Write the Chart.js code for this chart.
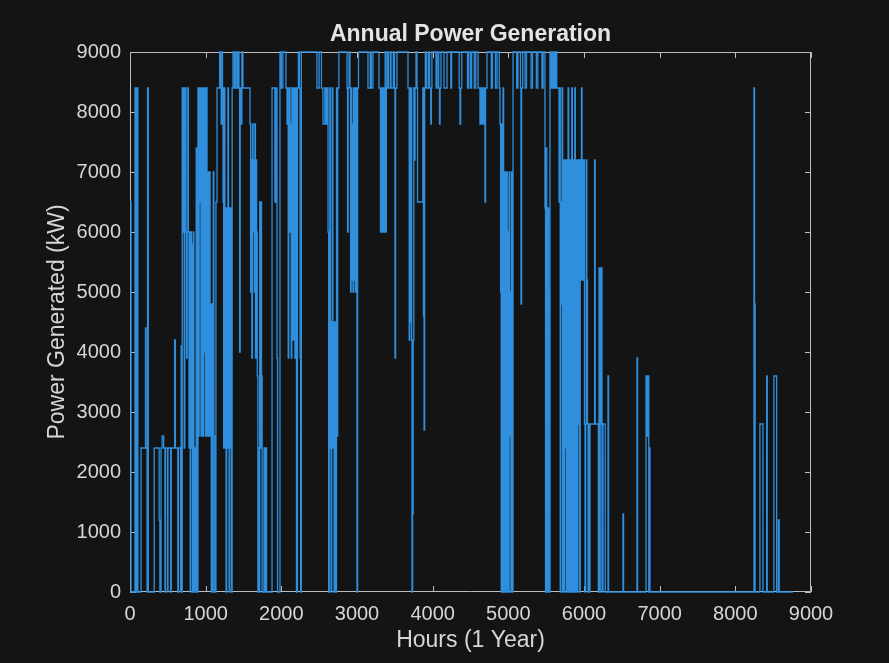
<!DOCTYPE html>
<html>
<head>
<meta charset="utf-8">
<script src="https://cdn.jsdelivr.net/npm/chart.js@4"></script>
<style>
    html, body { margin: 0; padding: 0; background: #141414; }
    canvas { display: block; }
</style>
</head>
<body>
<canvas id="chart" width="889" height="663"></canvas>
<script>
// Hour at which the output changes, and the output (kW) held from that hour on
const hoursJanFeb = [
    0, 13, 66, 80, 92, 104, 145, 205, 212, 226,
    232, 242, 320, 385, 395, 410, 425, 445, 462, 468,
    495, 502, 538, 546, 590, 600, 632, 640, 668, 676,
    686, 690, 700, 708, 716, 724, 732, 740, 748, 756,
    764, 772, 780, 788, 796, 804, 812, 820, 828, 836,
    844, 852, 860, 868, 875, 885, 898, 906, 914, 922,
    930, 938, 946, 954, 962, 970, 978, 986, 994, 1002,
    1010, 1018, 1026, 1034, 1042, 1050, 1058, 1066, 1074, 1082,
    1090, 1100, 1108
];
const kwJanFeb = [
    6500, 0, 8400, 0, 8400, 0, 2400, 4400, 2400, 0,
    8400, 0, 2400, 1200, 0, 2400, 2600, 2400, 0, 2400,
    0, 2400, 0, 2400, 4200, 2400, 0, 2400, 0, 4100,
    0, 8400, 6000, 8400, 2400, 6000, 8400, 6000, 3900, 6000,
    8400, 6000, 2400, 6000, 0, 6000, 2400, 5800, 0, 6000,
    2400, 0, 2400, 0, 7400, 0, 8400, 2600, 8400, 6500,
    8400, 2600, 8400, 7000, 2600, 8400, 4000, 8400, 2600, 7000,
    8400, 2600, 7000, 5000, 2600, 7000, 4800, 2600, 0, 4800,
    0, 7000, 2600
];

const hoursFebApr = [
    1120, 1136, 1150, 1185, 1195, 1205, 1213, 1222, 1230, 1238,
    1246, 1254, 1262, 1270, 1278, 1286, 1294, 1302, 1310, 1318,
    1326, 1334, 1342, 1350, 1361, 1380, 1395, 1414, 1425, 1440,
    1448, 1456, 1470, 1478, 1493, 1586, 1594, 1602, 1610, 1618,
    1626, 1634, 1642, 1650, 1658, 1666, 1674, 1682, 1690, 1698,
    1706, 1714, 1722, 1730, 1738, 1746, 1771, 1780, 1797, 1805,
    1877, 1915, 1929, 1943, 1950, 1982, 2000, 2020, 2061, 2075,
    2083, 2091, 2099, 2107, 2115, 2123, 2131, 2139, 2147, 2155,
    2163, 2171, 2179, 2187, 2200, 2213, 2226, 2240, 2247, 2255,
    2265
];
const kwFebApr = [
    0, 6500, 8400, 9000, 8400, 7800, 9000, 8400, 6500, 2400,
    8400, 6400, 2400, 0, 6400, 2400, 8400, 6400, 0, 2400,
    6400, 2400, 0, 8400, 9000, 8400, 9000, 8400, 9000, 8400,
    4000, 8400, 7800, 9000, 8400, 7800, 5000, 7200, 3900, 7800,
    6000, 7200, 5000, 7800, 3900, 7200, 6000, 3600, 0, 2400,
    0, 6500, 2400, 6500, 3600, 0, 2400, 0, 2400, 0,
    8400, 6500, 8400, 3900, 0, 9000, 8400, 9000, 8400, 7800,
    8400, 3900, 7800, 8400, 6000, 7800, 3900, 8400, 7800, 4200,
    8400, 7800, 3900, 8400, 0, 8400, 9000, 8400, 3900, 0,
    9000
];

const hoursAprMay = [
    2273, 2471, 2500, 2530, 2550, 2575, 2590, 2605, 2617, 2625,
    2633, 2641, 2649, 2657, 2665, 2673, 2681, 2689, 2697, 2705,
    2713, 2721, 2729, 2737, 2745, 2760, 2868, 2875, 2883, 2895,
    2907, 2915, 2923, 2931, 2939, 2947, 2955, 2963, 2971, 2979,
    2990, 3000, 3008, 3020, 3145, 3175, 3190, 3211, 3290, 3310,
    3318, 3326
];
const kwAprMay = [
    9000, 8400, 9000, 8400, 7800, 8400, 7800, 8400, 6000, 0,
    6000, 8400, 2400, 0, 4500, 8400, 2400, 4500, 0, 2400,
    4500, 0, 8400, 2600, 8400, 9000, 8400, 6000, 8400, 9000,
    8400, 5000, 8400, 5200, 7800, 5000, 8400, 5200, 8400, 5000,
    8400, 0, 8400, 9000, 8400, 9000, 8400, 9000, 8400, 6000,
    8400, 6000
];

const hoursMayJul = [
    3340, 3348, 3356, 3364, 3372, 3380, 3388, 3400, 3415, 3440,
    3450, 3480, 3495, 3502, 3510, 3528, 3674, 3690, 3698, 3706, 3714,
    3722, 3727, 3735, 3743, 3751, 3759, 3767, 3780, 3793, 3800,
    3870, 3878, 3886, 3894, 3903, 3920, 3945, 3960, 3975, 3983,
    3990, 4045, 4060, 4080, 4090, 4098, 4110, 4150, 4190, 4240,
    4250, 4350, 4361, 4370, 4385
];
const kwMayJul = [
    8400, 6000, 8400, 6000, 9000, 6000, 8400, 9000, 8400, 9000,
    8400, 9000, 8400, 3900, 8400, 9000, 8400, 4200, 8400, 4500, 8400,
    4200, 0, 1300, 4200, 8400, 7200, 8400, 9000, 8400, 6500,
    8400, 4600, 2700, 8400, 9000, 8400, 9000, 8400, 7800, 8400,
    9000, 8400, 9000, 8400, 7800, 8400, 9000, 8400, 9000, 8400,
    9000, 8400, 7800, 8400, 9000
];

const hoursJulAug = [
    4427, 4460, 4475, 4500, 4515, 4550, 4570, 4600, 4625, 4633,
    4641, 4649, 4657, 4665, 4673, 4681, 4691, 4699, 4718, 4775,
    4790, 4830, 4850, 4880, 4890, 4898, 4906, 4914, 4922, 4930,
    4938, 4946, 4954, 4962, 4970, 4978, 4986, 4994, 5002, 5010,
    5018, 5026, 5034, 5042, 5050, 5062, 5110, 5127, 5160, 5167,
    5175, 5190, 5220, 5240, 5300, 5320, 5370, 5390, 5444, 5460,
    5484, 5492, 5500, 5508, 5516, 5524, 5532, 5540
];
const kwJulAug = [
    9000, 8400, 9000, 8400, 9000, 8400, 9000, 8400, 7800, 8400,
    7800, 8400, 7800, 8400, 7800, 8400, 6500, 8400, 9000, 8400,
    9000, 8400, 9000, 8400, 7800, 5000, 0, 7800, 0, 8400,
    5000, 0, 7000, 5000, 0, 7000, 0, 6000, 0, 7000,
    2600, 5000, 0, 7000, 0, 9000, 8400, 9000, 8400, 4800,
    8400, 9000, 8400, 9000, 8400, 9000, 8400, 9000, 8400, 9000,
    6400, 0, 7400, 5000, 0, 6400, 5000, 0
];

const hoursSepOct = [
    5550, 5560, 5570, 5580, 5590, 5600, 5610, 5620, 5630, 5640,
    5670, 5678, 5686, 5694, 5702, 5710, 5718, 5726, 5734, 5742,
    5750, 5758, 5766, 5774, 5782, 5790, 5798, 5806, 5814, 5822,
    5830, 5838, 5846, 5854, 5862, 5870, 5878, 5886, 5894, 5902,
    5910, 5918, 5926, 5934, 5942, 5950, 5958, 5966, 5974, 5982,
    5990, 5998, 6006, 6014, 6022, 6030, 6038, 6046, 6054, 6062,
    6070, 6079, 6140, 6148, 6190, 6198, 6206, 6214, 6222, 6230,
    6238, 6250, 6280, 6317, 6325, 6515, 6523, 6700, 6708, 6820,
    6834, 6842, 6856, 6864, 6872
];
const kwSepOct = [
    9000, 8400, 9000, 8400, 9000, 8400, 9000, 8400, 9000, 8400,
    6500, 8400, 0, 6500, 4800, 8400, 0, 7200, 0, 7200,
    2400, 7200, 0, 7200, 0, 8400, 0, 7200, 5600, 0,
    7200, 8400, 0, 7200, 5600, 0, 8400, 7200, 0, 7200,
    0, 7200, 2800, 7200, 0, 7200, 5200, 8400, 5200, 7200,
    5200, 7200, 2800, 0, 2800, 7200, 5200, 2800, 0, 2800,
    0, 2800, 7200, 2800, 0, 5400, 0, 5400, 2800, 5400,
    0, 2800, 0, 3600, 0, 1300, 0, 3900, 0, 3600,
    2600, 3600, 0, 2400, 0
];

const hoursDec = [8246, 8254, 8262, 8325, 8365, 8414, 8422, 8510, 8546, 8568, 8580, 8760];
const kwDec = [8400, 4800, 0, 2800, 0, 3600, 0, 3600, 0, 1200, 0, 0];

const xTicks = [0, 1000, 2000, 3000, 4000, 5000, 6000, 7000, 8000, 9000];
const yTicks = [0, 1000, 2000, 3000, 4000, 5000, 6000, 7000, 8000, 9000];

const hours = [].concat(hoursJanFeb, hoursFebApr, hoursAprMay, hoursMayJul, hoursJulAug, hoursSepOct, hoursDec);
const power = [].concat(kwJanFeb, kwFebApr, kwAprMay, kwMayJul, kwJulAug, kwSepOct, kwDec);
const points = hours.map((h, i) => ({ x: h, y: power[i] }));

const textColor = '#d6d6d6';
const frameColor = '#bdbdbd';
const fontFamily = "'Liberation Sans', Arial, sans-serif";

// Matlab style box with ticks pointing inwards, title centred over the axes
const boxPlugin = {
    id: 'box',
    afterLayout(chart) {
        if (chart.titleBlock) {
            chart.titleBlock.left = chart.chartArea.left;
            chart.titleBlock.right = chart.chartArea.right;
        }
    },
    beforeDraw(chart) {
        const { ctx } = chart;
        ctx.save();
        ctx.fillStyle = '#141414';
        ctx.fillRect(0, 0, chart.width, chart.height);
        ctx.restore();
    },
    beforeDatasetsDraw(chart) {
        const { ctx, chartArea: a, scales: { x, y } } = chart;
        const len = 6;
        ctx.save();
        ctx.strokeStyle = frameColor;
        ctx.lineWidth = 1;
        ctx.beginPath();
        ctx.rect(a.left + 0.5, a.top + 0.5, a.right - a.left - 1, a.bottom - a.top - 1);
        xTicks.forEach(v => {
            const px = Math.round(x.getPixelForValue(v)) + 0.5;
            ctx.moveTo(px, a.bottom); ctx.lineTo(px, a.bottom - len);
            ctx.moveTo(px, a.top); ctx.lineTo(px, a.top + len);
        });
        yTicks.forEach(v => {
            const py = Math.round(y.getPixelForValue(v)) + 0.5;
            ctx.moveTo(a.left, py); ctx.lineTo(a.left + len, py);
            ctx.moveTo(a.right, py); ctx.lineTo(a.right - len, py);
        });
        ctx.stroke();
        ctx.restore();
    }
};

new Chart(document.getElementById('chart'), {
    type: 'line',
    data: {
        datasets: [{
            data: points,
            stepped: true,
            borderColor: '#2f8fdd',
            borderWidth: 1.3,
            pointRadius: 0,
            fill: false,
            clip: 2
        }]
    },
    options: {
        responsive: false,
        animation: false,
        events: [],
        layout: { padding: { left: 0, right: 78, top: 0, bottom: 0 } },
        plugins: {
            legend: { display: false },
            tooltip: { enabled: false },
            title: {
                display: true,
                text: 'Annual Power Generation',
                color: '#e4e4e4',
                font: { family: fontFamily, size: 23, weight: 'bold' },
                padding: { top: 21, bottom: 3.4 }
            }
        },
        scales: {
            x: {
                type: 'linear',
                min: 0,
                max: 9000,
                afterBuildTicks: (scale) => { scale.ticks = xTicks.map(v => ({ value: v })); },
                afterFit: (scale) => { scale.height = 71; },
                grid: { display: false, drawTicks: false },
                border: { display: false },
                ticks: {
                    color: textColor, padding: 10, maxRotation: 0,
                    font: { family: fontFamily, size: 20 },
                    callback: (v) => String(v)
                },
                title: {
                    display: true,
                    text: 'Hours (1 Year)',
                    color: textColor,
                    font: { family: fontFamily, size: 23 },
                    padding: { top: 0, bottom: 9 }
                }
            },
            y: {
                min: 0,
                max: 9000,
                afterBuildTicks: (scale) => { scale.ticks = yTicks.map(v => ({ value: v })); },
                afterFit: (scale) => { scale.width = 130; },
                grid: { display: false, drawTicks: false },
                border: { display: false },
                ticks: {
                    color: textColor, padding: 9,
                    font: { family: fontFamily, size: 20 },
                    callback: (v) => String(v)
                },
                title: {
                    display: true,
                    text: 'Power Generated (kW)',
                    color: textColor,
                    font: { family: fontFamily, size: 23 },
                    padding: { top: 44, bottom: 0 }
                }
            }
        }
    },
    plugins: [boxPlugin]
});
</script>
</body>
</html>
